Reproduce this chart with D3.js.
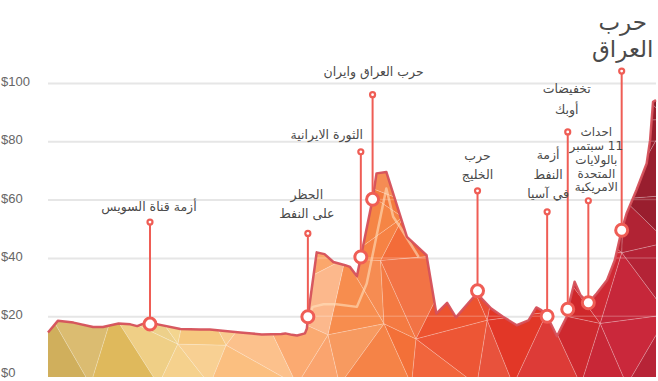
<!DOCTYPE html>
<html><head><meta charset="utf-8">
<script src="https://cdn.jsdelivr.net/npm/d3@7"></script>
<style>body{margin:0;background:#fff;} svg{display:block;}</style>
</head><body>
<svg id="chart" width="658" height="381"></svg>
<script>
// ---------- DATA ----------
const years = [1946.0,1947.0,1948.6,1950.6,1951.6,1953.2,1954.4,1955.1,1955.6,1956.4,1957.2,1959.5,1961.5,1962.5,1965.6,1966.8,1967.8,1969.8,1970.2,1970.9,1971.4,1972.2,1972.4,1972.5,1973.4,1974.2,1975.1,1976.3,1976.8,1977.5,1979.1,1979.5,1980.5,1982.6,1984.6,1985.6,1986.7,1987.6,1989.4,1989.8,1990.2,1991.2,1992.4,1993.8,1995.0,1995.8,1996.3,1996.9,1997.9,1998.9,1999.0,1999.7,2000.3,2001.1,2001.95,2003.0,2003.8,2004.5,2005.0,2006.0,2007.05,2007.4,2007.7,2008.0];
const prices = [14.4,18.4,17.8,16.3,16.3,17.5,17.2,16.6,17.3,17.3,17.2,15.6,15.4,15.4,14.4,14.1,13.7,13.9,14.1,13.6,13.4,14.1,15.8,19.8,41.9,41.3,38.6,37.5,36.9,33.7,60.1,69.0,69.5,47.2,40.9,20.9,24.6,19.6,26.6,28.7,26.1,22.6,19.8,16.9,18.6,23.0,22.1,20.0,13.1,19.8,22.4,31.8,27.2,24.6,27.8,32.3,39.2,49.5,55.2,63.2,72.4,80.4,93.5,94.1];

const innerYears = [1972.5,1973.0,1974.1,1975.4,1977.5,1978.5,1980.5,1981.2,1981.9,1983.8];
const innerPrices = [19.8,23.2,24.1,24.1,23.2,31.2,63.8,54.1,50.6,40.3];

const eventYears = [1956.4,1972.5,1977.9,1979.1,1989.8,1996.9,1999.0,2001.1,2004.5];
const eventPrices = [17.3,19.8,40.3,60.1,28.7,20.0,22.4,24.6,49.5];
const eventStemTops = [52.3,48.4,76.4,96.0,63.0,55.8,83.2,59.6,104.1];
const eventLabels = [
  ["أزمة قناة السويس"],
  ["الحظر","على النفط"],
  ["الثورة الايرانية"],
  ["حرب العراق وايران"],
  ["حرب","الخليج"],
  ["أزمة","النفط","في آسيا"],
  ["تخفيضات","أوبك"],
  ["احداث","11 سبتمبر","بالولايات","المتحدة","الامريكية"],
  ["حرب","العراق"]
];

const yTicks = [0,20,40,60,80,100];
const yTickLabels = ["$0","$20","$40","$60","$80","$100"];

// ---------- LAYOUT (styles / positions of labels) ----------
const labelLayout = [
  {dx:-1, y:207, fs:12.5, lh:19},
  {dx:-1, y:195, fs:12.5, lh:19},
  {dx:-34, y:135, fs:12.5, lh:19},
  {dx:1, y:72, fs:12.5, lh:19},
  {dx:0, y:156, fs:12.5, lh:18.5},
  {dx:1, y:155, fs:12.5, lh:19.5},
  {dx:-1, y:89, fs:12.5, lh:21},
  {dx:8, y:132, fs:12, lh:13.8},
  {dx:1, y:22, fs:23, lh:26.5}
];

const W = 658, H = 381;
const svg = d3.select("#chart");
const x = d3.scaleLinear().domain([1946, 2008]).range([48, 656]);
const y = d3.scaleLinear().domain([0, 100]).range([374.5, 83]);
const bottomY = 377;

// grid + y labels
const axis = d3.axisLeft(y).tickValues(yTicks).tickSize(-(656 - 48))
  .tickFormat((d, i) => yTickLabels[i]);
const gAxis = svg.append("g").attr("transform", "translate(48,0)").call(axis);
gAxis.select(".domain").remove();
gAxis.selectAll(".tick line").attr("stroke", "#e6e6e6").attr("stroke-width", 2);
gAxis.selectAll(".tick text")
  .attr("x", -47).attr("dy", "0.3em").attr("y", -1.5)
  .attr("text-anchor", "start")
  .style("font-family", "'Liberation Sans', Arial, sans-serif")
  .style("font-size", "13px").attr("fill", "#666");

// area
const pts = years.map((yr, i) => [x(yr), y(prices[i])]);
const areaGen = d3.area().x(d => d[0]).y0(bottomY).y1(d => d[1]);
const defs = svg.append("defs");
defs.append("clipPath").attr("id", "areaClip").append("path").attr("d", areaGen(pts));

// deterministic low-poly mesh
function hash(n) { const s = Math.sin(n * 127.1 + 311.7) * 43758.5453; return s - Math.floor(s); }
const meshPts = [];
const mx0 = 40, mx1 = 668, my0 = 70, my1 = 385, cols = 11, rows = 5;
for (let r = 0; r <= rows; r++) {
  for (let c = 0; c <= cols; c++) {
    let px = mx0 + (mx1 - mx0) * c / cols;
    let py = my0 + (my1 - my0) * r / rows;
    const ex = (c === 0 || c === cols), ey = (r === 0 || r === rows);
    if (!ex) px += (hash(r * 31 + c * 3 + 1) - 0.5) * (mx1 - mx0) / cols * 0.85;
    if (!ey) py += (hash(r * 17 + c * 7 + 5) - 0.5) * (my1 - my0) / rows * 0.8;
    if (!ex && r % 2) px += (mx1 - mx0) / cols * 0.3;
    meshPts.push([px, py]);
  }
}
const ramp = d3.scaleLinear()
  .domain([48,110,165,220,265,305,340,385,425,465,520,565,610,656])
  .range(["#d4b870","#e3c67e","#f3d48c","#f9c98b","#fcbd85","#fba872","#f8975a","#f5844a","#f26a3c","#ec5334","#e23c2e","#d62a2d","#c9283a","#c0263a"])
  .interpolate(d3.interpolateRgb).clamp(true);
function triColor(cx, cy, i) {
  const c = d3.hsl(ramp(cx));
  let dl = (hash(i * 13 + 3) - 0.5) * 0.05;
  if (cx < 140 && cy > 320) dl -= Math.min(1, (cy - 320) / 50) * 0.08;
  if (cx > 560) dl -= Math.max(0, Math.min(1, (320 - cy) / 180)) * Math.min(1, (cx - 560) / 60) * 0.12;
  if (cx > 295 && cx < 350 && cy < 310) dl += 0.07;
  c.l = Math.max(0, Math.min(1, c.l + dl));
  return c.formatRgb();
}
const delaunay = d3.Delaunay.from(meshPts);
const tris = delaunay.triangles;
const gMesh = svg.append("g").attr("clip-path", "url(#areaClip)");
for (let i = 0; i < tris.length / 3; i++) {
  const a = meshPts[tris[3*i]], b = meshPts[tris[3*i+1]], c = meshPts[tris[3*i+2]];
  const cx = (a[0] + b[0] + c[0]) / 3, cy = (a[1] + b[1] + c[1]) / 3;
  gMesh.append("path")
    .attr("d", `M${a}L${b}L${c}Z`)
    .attr("fill", triColor(cx, cy, i))
    .attr("stroke", "rgba(255,255,255,0.25)")
    .attr("stroke-width", 0.8)
    .attr("stroke-linejoin", "round");
}
// faint grid over the fill
gMesh.selectAll("line.g2").data(yTicks.slice(1)).join("line")
  .attr("x1", 48).attr("x2", 656).attr("y1", d => y(d)).attr("y2", d => y(d))
  .attr("stroke", "rgba(255,255,255,0.2)").attr("stroke-width", 1.5);

// inner light line
const lineGen = d3.line().x(d => d[0]).y(d => d[1]);
svg.append("path")
  .attr("d", lineGen(innerYears.map((yr, i) => [x(yr), y(innerPrices[i])])))
  .attr("fill", "none").attr("stroke", "rgba(255,225,190,0.6)").attr("stroke-width", 2.5)
  .attr("stroke-linejoin", "round");

// main line
svg.append("path").attr("d", lineGen(pts))
  .attr("fill", "none").attr("stroke", "#d5505a").attr("stroke-width", 2.5)
  .attr("stroke-linejoin", "round").attr("opacity", 0.95);

// stems + markers
const coral = "#ef5d55";
const gEv = svg.append("g");
eventYears.forEach((yr, i) => {
  const ex = x(yr);
  gEv.append("line").attr("x1", ex).attr("x2", ex)
    .attr("y1", y(eventStemTops[i])).attr("y2", y(eventPrices[i]))
    .attr("stroke", coral).attr("stroke-width", 2);
  gEv.append("circle").attr("cx", ex).attr("cy", y(eventStemTops[i])).attr("r", 3.6)
    .attr("fill", coral);
  gEv.append("circle").attr("cx", ex).attr("cy", y(eventStemTops[i])).attr("r", 1.4)
    .attr("fill", "#fff");
  gEv.append("circle").attr("cx", ex).attr("cy", y(eventPrices[i])).attr("r", 6)
    .attr("fill", "#fff").attr("stroke", coral).attr("stroke-width", 3);
});

// labels
eventLabels.forEach((lines, i) => {
  const L = labelLayout[i];
  const cx = x(eventYears[i]) + L.dx;
  const t = svg.append("text")
    .attr("text-anchor", "middle").attr("direction", "rtl")
    .style("font-family", "'DejaVu Sans', sans-serif")
    .style("font-size", L.fs + "px").attr("fill", "#4a4a4a");
  lines.forEach((s, j) => {
    t.append("tspan").attr("x", cx).attr("y", L.y + j * L.lh).attr("dy", "0.35em").text(s);
  });
});
</script>
</body></html>
